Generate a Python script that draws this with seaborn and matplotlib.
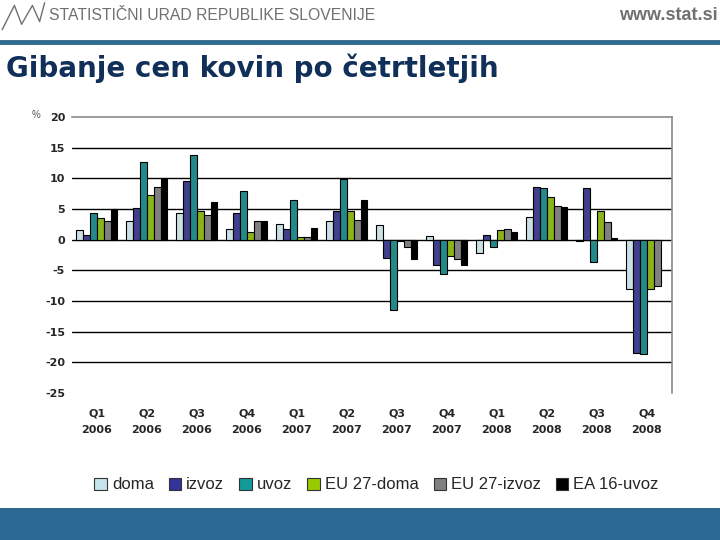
import matplotlib
matplotlib.use("Agg")
import matplotlib.pyplot as plt
from matplotlib.lines import Line2D
from matplotlib.patches import Rectangle
import numpy as np
import pandas as pd
import seaborn as sns

quarters = ["Q1\n2006", "Q2\n2006", "Q3\n2006", "Q4\n2006",
            "Q1\n2007", "Q2\n2007", "Q3\n2007", "Q4\n2007",
            "Q1\n2008", "Q2\n2008", "Q3\n2008", "Q4\n2008"]
series = ["doma", "izvoz", "uvoz", "EU 27-doma", "EU 27-izvoz", "EA 16-uvoz"]

doma = [1.5, 3.1, 4.4, 1.8, 2.5, 3.0, 2.4, 0.6, -2.2, 3.7, -0.2, -8.0]
izvoz = [0.8, 5.2, 9.5, 4.3, 1.7, 4.7, -3.0, -4.2, 0.8, 8.6, 8.4, -18.4]
uvoz = [4.4, 12.7, 13.8, 8.0, 6.4, 9.9, -11.4, -5.6, -1.2, 8.5, -3.6, -18.7]
eu27_doma = [3.6, 7.3, 4.7, 1.3, 0.5, 4.6, -0.2, -2.7, 1.6, 7.0, 4.7, -8.0]
eu27_izvoz = [3.1, 8.6, 4.1, 3.1, 0.4, 3.2, -1.2, -3.2, 1.7, 5.5, 2.9, -7.6]
ea16_uvoz = [5.0, 9.9, 6.2, 3.1, 1.9, 6.5, -3.2, -4.2, 1.3, 5.4, 0.3, np.nan]

colors = ["#C5E3EA", "#333399", "#139A9A", "#99CC00", "#808080", "#000000"]

values = [doma, izvoz, uvoz, eu27_doma, eu27_izvoz, ea16_uvoz]
df = pd.DataFrame({
    "quarter": np.tile(quarters, len(series)),
    "series": np.repeat(series, len(quarters)),
    "value": np.concatenate(values),
})

sns.set_theme(style="white")
plt.rcParams["font.family"] = ["Liberation Sans", "DejaVu Sans"]
plt.rcParams["axes.unicode_minus"] = False

fig = plt.figure(figsize=(7.2, 5.4), dpi=100)
ax = fig.add_axes([0.1, 0.2722, 0.8333, 0.5111])

sns.barplot(data=df, x="quarter", y="value", hue="series", order=quarters,
            hue_order=series, palette=colors, edgecolor="black", linewidth=0.8,
            width=0.82, ax=ax, legend=False)

ax.set_ylim(-25, 20)
ax.set_xlim(-0.5, len(quarters) - 0.5)
ax.set_yticks(np.arange(-25, 21, 5))
for y in range(-20, 20, 5):
    ax.axhline(y, color="black", lw=1, zorder=0)
ax.set_xlabel("")
ax.set_ylabel("")
for side in ["left", "bottom"]:
    ax.spines[side].set_visible(False)
for side in ["top", "right"]:
    ax.spines[side].set_color("#8a8a8a")
    ax.spines[side].set_linewidth(1.2)
ax.tick_params(axis="y", length=0, pad=5, labelsize=8)
ax.tick_params(axis="x", length=0, pad=11, labelsize=8)
for lbl in ax.get_yticklabels() + ax.get_xticklabels():
    lbl.set_fontweight("bold")
    lbl.set_family(["DejaVu Sans"])
for lbl in ax.get_xticklabels():
    lbl.set_linespacing(1.9)

fig.text(0.05, 0.787, "%", fontsize=7, color="#555555", ha="center", va="center")

# legend
handles = [Rectangle((0, 0), 1, 1, facecolor=c, edgecolor="#333333", lw=0.8) for c in colors]
fig.legend(handles, series, loc="center", bbox_to_anchor=(0.523, 0.102), ncol=6,
           frameon=False, fontsize=12, handlelength=0.75, handleheight=0.75,
           handletextpad=0.3, columnspacing=0.9)

# header
fig.text(0.068, 0.972, "STATISTIČNI URAD REPUBLIKE SLOVENIJE", fontsize=11.3,
         color="#707070", ha="left", va="center")
fig.text(0.997, 0.972, "www.stat.si", fontsize=13, fontweight="bold",
         color="#707070", ha="right", va="center")
fig.add_artist(Line2D([0.0, 1.0], [0.922, 0.922], color="#2E6A8E", lw=3.5))
fig.add_artist(Line2D([0.003, 0.02, 0.03, 0.045, 0.055, 0.062],
                      [0.945, 0.99, 0.955, 0.99, 0.96, 0.995], color="#707070", lw=1))
fig.text(0.008, 0.873, "Gibanje cen kovin po četrtletjih", fontsize=20,
         fontweight="bold", color="#10305A", ha="left", va="center",
         family=["DejaVu Sans"])

# bottom band
fig.add_artist(Rectangle((0, 0), 1, 0.059, transform=fig.transFigure,
                         facecolor="#2D6A93", edgecolor="none"))

fig.savefig("out.png", dpi=100)
